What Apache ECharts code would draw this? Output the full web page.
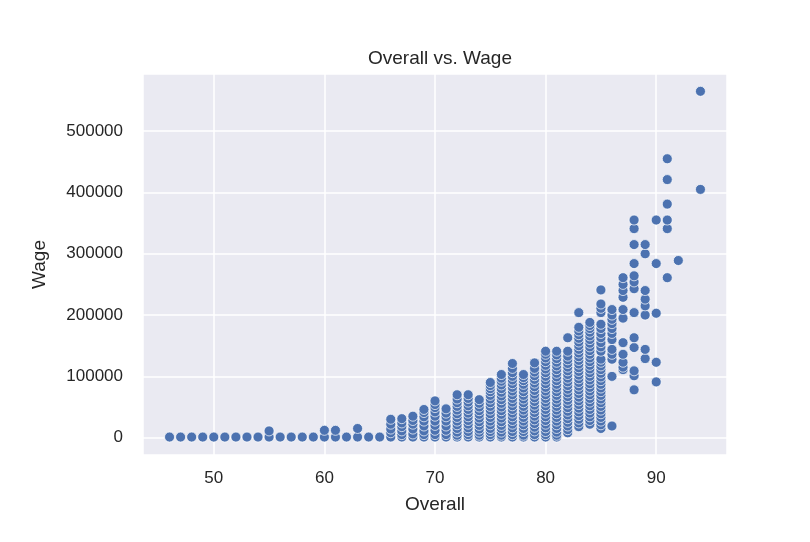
<!DOCTYPE html>
<html>
<head>
    <meta charset="utf-8">
    <title>Overall vs. Wage</title>
    <script src="https://cdn.jsdelivr.net/npm/echarts@6/dist/echarts.min.js"></script>
</head>
<style>
    html, body { margin: 0; padding: 0; background: #fff; }
    #chart { width: 810px; height: 542px; }
</style>
<body>
<div id="chart"></div>

<script>
    // overall rating -> wages seen in that column (in thousands)
    var overall = [46, 47, 48, 49, 50, 51, 52, 53, 54, 55, 56, 57, 58, 59, 60, 61, 62, 63, 64, 65,
        66, 67, 68, 69, 70, 71, 72, 73, 74, 75, 76, 77, 78, 79, 80, 81, 82, 83, 84, 85,
        86, 87, 88, 89, 90, 91, 92, 94];
    var wageK = [
        [1], [1], [1], [1], [1], [1], [1], [1], [1], [1, 11], [1], [1], [1], [1], [1, 12], [1, 12], [1], [1, 15], [1], [1],
        [1, 8, 14, 22, 30],
        [1, 5, 11, 18, 24, 31],
        [1, 6, 14, 22, 28, 35],
        [1, 5, 11, 19, 27, 34, 41, 46],
        [1, 5, 12, 20, 27, 35, 42, 49, 54, 60],
        [1, 5, 12, 19, 27, 34, 40, 47],
        [1, 4, 9, 15, 21, 27, 33, 39, 45, 51, 57, 63, 70],
        [1, 5, 10, 16, 22, 28, 34, 40, 46, 52, 58, 64, 70],
        [1, 4, 9, 14, 20, 26, 32, 38, 44, 50, 56, 62],
        [1, 5, 10, 15, 21, 27, 33, 39, 45, 51, 57, 63, 69, 75, 80, 85, 90],
        [1, 4, 9, 15, 20, 26, 32, 38, 44, 50, 56, 62, 68, 74, 80, 86, 92, 97, 103],
        [1, 5, 10, 16, 22, 28, 34, 40, 46, 52, 58, 64, 70, 76, 82, 88, 94, 100, 106, 113, 121],
        [1, 4, 10, 15, 21, 27, 33, 39, 45, 51, 57, 63, 69, 75, 81, 87, 93, 98, 103],
        [1, 5, 11, 17, 23, 29, 35, 41, 47, 53, 59, 65, 71, 77, 83, 89, 95, 101, 107, 113, 122],
        [1, 5, 10, 16, 22, 28, 34, 40, 46, 52, 58, 64, 70, 76, 82, 88, 94, 100, 106, 112, 118, 124, 130, 136, 141],
        [1, 4, 9, 15, 21, 27, 33, 39, 45, 51, 57, 63, 69, 75, 81, 87, 93, 99, 105, 111, 117, 123, 129, 135, 141],
        [8, 13, 19, 25, 31, 37, 43, 49, 55, 61, 67, 73, 79, 85, 91, 97, 103, 109, 115, 121, 127, 133, 141, 163],
        [18, 24, 30, 36, 42, 48, 54, 60, 66, 72, 78, 84, 90, 96, 102, 108, 114, 120, 126, 132, 138, 144, 150, 156, 162, 168, 174, 180, 204],
        [22, 28, 34, 40, 46, 52, 58, 64, 70, 76, 82, 88, 94, 100, 106, 112, 118, 124, 130, 136, 142, 148, 154, 160, 166, 172, 178, 183, 188],
        [15, 21, 27, 33, 39, 45, 51, 57, 63, 69, 75, 81, 87, 93, 99, 105, 111, 117, 123, 128, 141, 148, 155, 163, 170, 178, 185, 204, 211, 218, 241],
        [19, 100, 128, 136, 144, 160, 170, 178, 186, 193, 200, 209],
        [111, 115, 123, 136, 155, 195, 209, 229, 240, 250, 261],
        [78, 101, 109, 147, 163, 204, 243, 254, 264, 284, 315, 341, 355],
        [129, 144, 200, 215, 226, 240, 300, 315],
        [91, 123, 203, 284, 355],
        [261, 341, 355, 381, 421, 455],
        [289],
        [405, 565]
    ];

    var points = [];
    for (var i = 0; i < overall.length; i++) {
        for (var j = 0; j < wageK[i].length; j++) {
            points.push([overall[i], wageK[i][j] * 1000]);
        }
    }

    var font = 'Liberation Sans, Arial, sans-serif';
    var ink = '#262626';

    var chart = echarts.init(document.getElementById('chart'), null, {renderer: 'canvas'});
    chart.setOption({
        animation: false,
        backgroundColor: '#ffffff',
        title: {
            text: 'Overall vs. Wage',
            left: 435,
            top: 44,
            textAlign: 'center',
            textStyle: {fontFamily: font, fontSize: 19, fontWeight: 'normal', color: ink}
        },
        grid: {
            left: 143, right: 83, top: 74, bottom: 87,
            show: true, backgroundColor: '#EAEAF2', borderWidth: 0
        },
        xAxis: {
            type: 'value',
            min: 43.6, max: 96.4,
            name: 'Overall',
            nameLocation: 'middle',
            nameGap: 40,
            nameTextStyle: {fontFamily: font, fontSize: 19, color: ink},
            axisLine: {show: false},
            axisTick: {show: false},
            axisLabel: {
                showMinLabel: false, showMaxLabel: false,
                fontFamily: font, fontSize: 17, color: ink, margin: 15,
                formatter: function (v) { return String(v); }
            },
            splitLine: {show: true, lineStyle: {color: '#ffffff', width: 1.5}}
        },
        yAxis: {
            type: 'value',
            min: -28250, max: 593250,
            name: 'Wage',
            nameLocation: 'middle',
            nameGap: 94,
            nameTextStyle: {fontFamily: font, fontSize: 19, color: ink},
            axisLine: {show: false},
            axisTick: {show: false},
            axisLabel: {
                showMinLabel: false, showMaxLabel: false,
                fontFamily: font, fontSize: 17, color: ink, margin: 20,
                formatter: function (v) { return String(v); }
            },
            splitLine: {show: true, lineStyle: {color: '#ffffff', width: 1.5}}
        },
        series: [{
            type: 'scatter',
            data: points,
            symbolSize: 10,
            itemStyle: {color: '#4C72B0', borderColor: '#ffffff', borderWidth: 0.7, opacity: 1}
        }]
    });
</script>
</body>
</html>
